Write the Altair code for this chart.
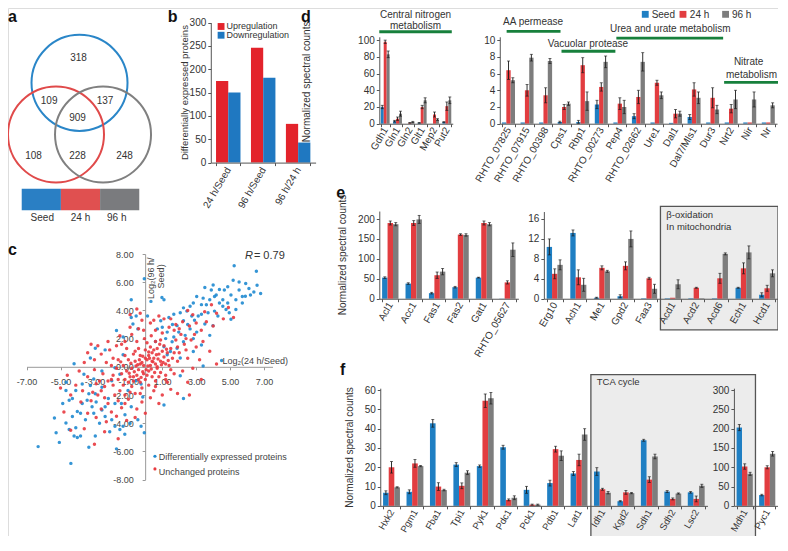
import altair as alt
import pandas as pd

# ---------------- canvas mapping (reference pixels -> chart pixels) ----------------
W, H = 770, 528
SX = W / 786.0
SY = H / 543.0
def cx(X):
    return (X - 1) * SX
def cy(Y):
    return (Y - 4) * SY

FONT = "Liberation Sans"
BLUE = "#1f7fc3"
RED = "#e23d40"
GRAY = "#7d7d7d"
GROUPS = ["Seed", "24 h", "96 h"]
GROUP_COLORS = [BLUE, RED, GRAY]

# ---------------- data ----------------
# a: Venn
venn_sets = ["Seed", "24 h", "96 h"]
venn_region_counts = [318, 109, 137, 909, 108, 228, 248]

# b
b_comparisons = ["24 h/Seed", "96 h/Seed", "96 h/24 h"]
b_up = [175, 246, 83]
b_down = [150, 182, 43]

# c: scatter (log2 ratios)
c_diff_x = [5.24, 6.55, 6.59, 5.53, 5.92, 5.18, 4.86, 4.37, 3.89, 3.51, 3.03, 2.83, 3.31, 3.80, 4.18, 4.57, 5.05, 5.34, 5.72, 6.20,
            4.76, 5.05, 4.57, 4.08, 3.70, 3.31, 2.45, 2.06, 1.68, 2.25, 1.87, 2.64, 3.03, 2.83, 2.25, 1.87, 1.48, 1.10, 1.29, 1.68,
            1.29, 1.00, 0.91, 1.39, 4.50, 3.41, 3.31, 2.25, 1.10, 2.06, 1.10, 0.71, 0.98, 3.51, 3.99, 3.80, 3.12, 4.37, 4.86, 5.53,
            5.72, 6.11, 4.66, 4.08, 3.41, 2.64, 2.25, 2.74, 1.97, 2.35, 1.58, 4.95, 5.34, 4.28, 2.06, 2.83, 6.80, 6.40, 5.90, 4.00,
            3.60, 2.90, 2.50, 1.60, 1.20, 0.60,
            -0.06, -0.83, 0.33, -0.83, -0.73, -1.70, -1.31, 0.13, -0.54, -0.44, -2.95, -2.37, -3.24, -4.20, -1.31,
            -3.62, -3.04, -2.56, -4.68, -4.68, -4.49, -4.10, -3.72, -4.01, -4.30, -4.68, -5.36, -5.26, -4.49, -4.10, -4.20, -4.01,
            -3.82, -5.07, -6.32, -4.39, -3.33, -2.95, -3.53, -3.04, -2.56, -2.37, -1.98, -1.79, -1.50, -1.31, -1.21, -1.70, -0.44,
            -0.25, -0.06, -0.83, -2.18, -1.79, -3.33, -3.72, -2.95, -2.37, -1.41, -1.02, -0.54, -1.98, -1.50, -2.56, -1.79, -3.43,
            -3.14, -3.82, -4.87, -4.30, -3.24, -0.25, -0.15, -2.10, -2.70, -1.20, -0.90, -2.90]
c_diff_y = [7.17, 6.78, 5.79, 6.02, 5.91, 6.14, 5.68, 5.49, 5.45, 5.63, 4.99, 4.53, 4.41, 4.76, 5.10, 4.76, 5.10, 4.76, 4.53, 5.10,
            4.07, 3.38, 4.30, 3.95, 3.84, 3.72, 3.95, 3.84, 3.72, 3.26, 2.92, 2.69, 2.46, 2.00, 1.77, 1.31, 1.08, 1.43, 0.85, 2.11,
            2.46, 2.80, 3.26, 3.49, 0.44, 0.05, 1.54, -2.25, -2.71, -0.64, 4.76, 2.69, 4.92, 3.03, 2.92, 2.23, 3.61, 4.53, 4.53, 5.45,
            4.99, 5.56, 5.45, 4.99, 4.87, 4.30, 4.18, 3.61, 2.46, 2.23, 1.77, 3.84, 4.07, 3.61, 0.62, 1.08, 5.20, 5.30, 5.00, 5.80,
            4.40, 3.30, 3.00, 3.00, 2.00, 1.80,
            6.25, 4.76, 4.64, 3.49, 3.03, 2.57, 2.11, 3.61, 3.61, 2.69, 1.31, 1.20, 0.62, 0.21, 0.85,
            -0.53, -0.87, -1.45, -1.10, -1.68, -2.37, -1.68, -2.60, -3.17, -3.52, -3.98, -3.63, -4.67, -4.44, -4.32, -4.90, -5.01,
            -4.90, -5.36, -5.66, -6.85, -5.70, -4.90, -3.75, -3.29, -3.06, -3.52, -3.75, -4.21, -4.44, -4.21, -4.78, -5.82, -3.75,
            -4.21, -4.67, -2.83, -2.25, -2.60, -1.91, -1.22, -1.91, -2.83, -2.60, -1.68, -0.99, -0.99, -0.53, -0.30, -0.07, -2.37,
            -2.83, -3.29, -2.60, -2.25, -1.33, -1.22, -2.14, -4.60, -4.00, -3.40, -4.00, -2.50]
c_unch_x = [-0.2, 0.1, 0.3, -0.4, 0.5, 0.2, -0.1, 0.6, -0.6, 0.8, 0.4, -0.3, 0.9, 1.1, 0.7, -0.8, -0.5, -0.9, -1.1, -0.7,
            -1.0, 0.0, 0.3, 0.7, 1.0, 1.3, 1.2, 0.9, 0.4, 0.0, -0.3, -0.7, -1.2, -1.4, -1.3, -1.2, -0.4, 0.1, 0.6, 1.1,
            1.5, 1.6, 1.5, 1.2, 0.6, 0.2, -0.2, -0.8, -1.3, -1.6, -1.7, -1.6, 0.2, -0.1, 0.45, -0.35, 0.75, -0.55, 0.05, 0.25,
            -0.15, 0.95, 0.55, -0.25, -0.65, 1.35, 0.85, -0.05, 0.35, -0.5,
            1.8, 2.1, 2.4, 2.0, 1.7, 2.6, 3.0, 3.3, 3.6, 4.0, 2.8, 3.5, 4.2, 4.6, 2.2, 1.4, 1.0, 0.6, 0.3, -0.2,
            0.8, 1.9, 2.5, 3.0, 3.4, 2.7, 2.2, 2.8, 3.2, 4.2, 3.8, 1.5, 2.5, 3.9, 4.9, 5.2, 1.2, 1.7, 2.5, 3.3,
            0.5, 1.0, 1.5, 0.8, 0.3, 1.9, 2.6,
            -0.5, -0.9, -0.4, -0.8, -1.2, -1.7, -2.1, -2.6, -3.0, -3.4, -3.6, -2.3, -1.9, -2.8, -2.2, -0.3, -1.5, -3.2,
            -2.0, -2.4, -2.9, -3.4, -3.9, -2.8, -2.2, -1.8, -1.5, -3.2, -2.6, -2.0, -1.4, -1.0, -0.6, -4.1, -4.4, -3.7,
            -3.4, -2.9, -2.3, -1.7, -1.1, -0.5, -0.2, -2.5, -3.0, -1.9, -2.6, -1.2, -0.9, -4.4, -3.6, -3.0, -4.8, -2.4,
            -1.6, -0.6, 0.0, -3.8, -4.6, -5.0,
            0.15, -0.45, 0.65, -0.85, 0.35, -0.15, 1.05, 0.5, -0.6, 0.2, -0.95, 0.8, -0.4, 1.25, 1.7, -1.45, -1.1, 0.0,
            0.4, -0.3, 0.7, -0.7, 0.1, 1.4, -1.0, 0.9, 1.9, 2.3, 2.0, 2.9, -1.9, -2.2, -1.6, -2.4, -0.3, 0.6, 1.3, -2.0,
            -1.4, -0.9, -0.1, 0.5, 1.1, 1.8, 2.4, -1.2, -2.7, -3.1]
c_unch_y = [0.3, 0.5, 0.1, -0.2, 0.6, -0.3, -0.5, 0.2, 0.4, 0.9, 1.0, 0.8, 0.4, 0.7, -0.1, -0.1, -0.6, -0.7, -0.3, 0.9,
            0.5, 1.2, 1.4, 1.3, 1.1, 1.0, 0.2, -0.4, -0.7, -0.9, -1.1, -1.0, -0.9, -0.5, 0.1, 0.8, 1.3, 1.7, 1.8, 1.5,
            1.3, 0.6, -0.2, -0.6, -1.0, -1.3, -1.5, -1.4, -1.3, -0.9, -0.1, 0.5, 0.8, 0.1, 0.35, 0.5, 0.55, 0.05, -0.2, 0.6,
            0.75, 0.15, -0.4, -0.75, -0.35, 0.45, 1.6, 2.0, 2.2, 1.8,
            1.9, 2.3, 1.2, 1.0, 2.6, 2.9, 3.1, 2.6, 3.2, 2.9, 3.7, 3.9, 3.8, 3.4, 3.2, 2.8, 2.4, 2.6, 3.1, 3.3,
            3.6, 0.4, 0.6, 1.4, 1.8, 1.9, -0.3, -0.1, 0.5, 0.2, 1.1, 3.4, 4.0, 4.4, 4.2, 3.5, -0.9, -0.5, -1.1, -0.9,
            -1.7, -2.0, -1.6, -2.6, -2.2, -1.9, -2.0,
            4.1, 3.7, 2.7, 2.3, 1.8, 1.5, 1.2, 0.9, 0.5, 1.0, 0.3, 0.3, 0.6, 1.5, 1.8, 3.8, 2.2, 1.6,
            -0.9, -1.4, -1.2, -0.7, -0.3, -2.0, -2.6, -2.0, -1.7, -2.4, -3.0, -3.2, -2.9, -2.3, -1.9, -1.3, -2.0, -1.7,
            -3.3, -3.6, -3.9, -3.5, -3.8, -3.0, -2.5, -0.5, -0.2, -1.3, -1.7, -2.0, -1.8, -4.5, -4.4, -5.5, -3.2, -4.6,
            -5.1, -3.6, -3.3, -2.5, -0.6, -1.5,
            0.05, 0.15, 0.85, 0.25, -0.15, -0.35, 0.3, 1.2, 1.1, 1.05, -0.45, -0.7, -0.9, 1.25, 1.0, 0.35, 1.3, 0.6,
            0.4, 0.2, 0.0, -0.7, -0.6, 0.1, -1.1, 1.9, 1.4, 1.6, 2.7, 2.3, -0.6, -1.0, -2.4, -2.2, -1.9, -1.4, -1.1, 0.1,
            1.6, 2.8, 2.6, 3.3, 3.4, 3.0, 2.0, -2.6, -1.0, -1.8]

# d
d1_genes = ["Gdh1", "Gln1", "Gln2", "Glt1", "Mep2", "Put2"]
d1_seed = [20, 3, 0, 1, 0, 2]
d1_seed_err = [2, 1, 0, 0.5, 0, 0.5]
d1_24h = [98, 6, 1, 20, 11, 21]
d1_24h_err = [2, 2, 0.4, 2, 3, 5]
d1_96h = [83, 12, 2, 28, 5, 28]
d1_96h_err = [4, 3, 0.8, 3, 1, 4]

d2_genes = ["RHTO_07825", "RHTO_07915", "RHTO_00398", "Cps1", "Rbp1", "RHTO_00273", "Pep4", "RHTO_02662",
            "Ure1", "Dal1", "Dal7/Mls1", "Dur3", "Nrt2", "Nir", "Nr"]
d2_seed = [0.15, 0.15, 0.15, 0.2, 0.2, 2.3, 0.15, 0.9, 0.15, 0.1, 0.8, 0.15, 0.15, 0.15, 0.15]
d2_seed_err = [0, 0, 0, 0.1, 0.2, 0.5, 0, 0.3, 0, 0, 0.3, 0, 0, 0, 0]
d2_24h = [6.4, 4.0, 3.4, 2.0, 7.0, 4.4, 2.4, 3.2, 4.9, 1.2, 4.1, 3.1, 1.8, 0.15, 0.15]
d2_24h_err = [1.1, 0.7, 0.9, 0.3, 0.9, 0.5, 0.7, 0.8, 0.3, 0.5, 0.8, 1.2, 0.5, 0, 0]
d2_96h = [5.2, 7.9, 7.5, 2.4, 2.7, 7.4, 2.0, 7.4, 3.4, 1.2, 3.1, 1.7, 2.9, 2.9, 2.2]
d2_96h_err = [0.3, 0.4, 0.3, 0.2, 1.1, 0.7, 0.8, 1.1, 0.4, 0.3, 0.7, 0.5, 1.1, 0.9, 0.3]

# e
e1_genes = ["Acl1", "Acc1", "Fas1", "Fas2", "Gat1", "RHTO_05627"]
e1_seed = [53, 38, 14, 29, 53, 0.5]
e1_seed_err = [2, 2, 2, 2, 1, 0]
e1_24h = [190, 190, 59, 161, 190, 41]
e1_24h_err = [5, 6, 8, 2, 5, 4]
e1_96h = [187, 199, 68, 160, 187, 123]
e1_96h_err = [4, 10, 8, 3, 4, 17]

e2_genes = ["Erg10", "Ach1", "Me1", "Gpd2", "Faa3", "Acd1", "Acd2", "Acd6", "Ech1", "Hcd1"]
e2_seed = [10.4, 13.2, 0.2, 0.5, 0.1, 0.1, 0.1, 0.1, 2.2, 0.8]
e2_seed_err = [1.6, 0.6, 0.1, 0.3, 0, 0, 0, 0, 0.1, 0.4]
e2_24h = [5.0, 4.3, 6.2, 6.6, 4.1, 0.2, 2.2, 4.1, 6.1, 2.1]
e2_24h_err = [1.0, 1.5, 0.4, 0.8, 0.2, 0, 0.1, 1.0, 1.1, 0.6]
e2_96h = [6.8, 2.8, 5.5, 12.0, 2.0, 2.9, 0.1, 9.0, 9.3, 5.1]
e2_96h_err = [1.0, 1.3, 0.2, 1.6, 0.9, 0.9, 0, 0.2, 1.3, 0.7]

# f
f1_genes = ["Hxk2", "Pgm1", "Fba1", "Tpi1", "Pyk1", "Pdc1", "Pck1", "Pdb1", "Lat1", "Idh1", "Kgd2", "Sdh1", "Sdh2", "Lsc2"]
f1_seed = [6.8, 7.3, 42.8, 21.4, 20.6, 30.4, 8.3, 11.8, 16.8, 17.8, 2.4, 34.0, 7.4, 7.0]
f1_seed_err = [1.0, 1.0, 2.0, 1.0, 0.6, 1.0, 1.8, 1.5, 1.0, 2.0, 0.3, 0.5, 0.5, 0.4]
f1_24h = [20.0, 22.0, 10.0, 10.4, 54.5, 3.1, 0.6, 29.4, 23.8, 8.6, 7.0, 13.6, 3.6, 3.6]
f1_24h_err = [3.0, 2.0, 2.0, 1.5, 3.5, 0.5, 0.3, 1.5, 3.0, 0.5, 1.0, 1.5, 0.5, 1.5]
f1_96h = [9.6, 20.6, 8.2, 17.2, 55.8, 4.2, 0.6, 26.0, 37.0, 6.8, 6.6, 25.6, 6.4, 10.4]
f1_96h_err = [0.3, 0.3, 0.4, 1.0, 3.0, 1.0, 0.3, 2.5, 3.0, 0.6, 0.3, 1.2, 0.3, 0.8]

f2_genes = ["Mdh1", "Pyc1"]
f2_seed = [203, 28]
f2_seed_err = [8, 2]
f2_24h = [102, 100]
f2_24h_err = [7, 4]
f2_96h = [83, 135]
f2_96h_err = [4, 6]


# ---------------- helpers ----------------
def long_df(genes, s, se, a, ae, b, be):
    rows = []
    for i, g in enumerate(genes):
        for grp, v, e in ((GROUPS[0], s[i], se[i]), (GROUPS[1], a[i], ae[i]), (GROUPS[2], b[i], be[i])):
            rows.append({"gene": g, "grp": grp, "val": v, "err": e,
                         "lo": max(v - e, 0), "hi": v + e})
    return pd.DataFrame(rows)


def axis_common(**kw):
    base = dict(grid=False, domainColor="#555555", tickColor="#555555", labelColor="#333333",
                labelFont=FONT, labelFontSize=10, tickSize=3, title=None, zindex=1)
    base.update(kw)
    return alt.Axis(**base)


def bar_panel(df, genes, X0, X1, Ybot, Ytop, dmax, ticks, pad_inner=0.3, label_size=10):
    xs = alt.Scale(range=[cx(X0), cx(X1)], paddingInner=pad_inner, paddingOuter=0.12)
    xa = axis_common(orient="bottom", offset=cy(Ybot) - H, labelAngle=300, tickBand="extent",
                     labelPadding=1, labelFontSize=label_size)
    ys = alt.Scale(domain=[0, dmax], range=[cy(Ybot), cy(Ytop)], nice=False, zero=True)
    ya = axis_common(orient="left", offset=-cx(X0), values=ticks, labelPadding=2)
    X = alt.X("gene:N", sort=genes, scale=xs, axis=xa)
    XO = alt.XOffset("grp:N", sort=GROUPS, scale=alt.Scale(domain=GROUPS))
    base = alt.Chart(df)
    bars = base.mark_bar().encode(
        x=X, xOffset=XO, y=alt.Y("val:Q", scale=ys, axis=ya),
        color=alt.Color("grp:N", scale=alt.Scale(domain=GROUPS, range=GROUP_COLORS), legend=None))
    eb = base.transform_filter("datum.err > 0")
    rule = eb.mark_rule(color="#1a1a1a", strokeWidth=0.9).encode(
        x=X, xOffset=XO, y=alt.Y("lo:Q", scale=ys, axis=ya), y2="hi:Q")
    cap_hi = eb.mark_tick(color="#1a1a1a", orient="horizontal", size=3, thickness=0.9).encode(
        x=X, xOffset=XO, y=alt.Y("hi:Q", scale=ys, axis=ya))
    cap_lo = eb.mark_tick(color="#1a1a1a", orient="horizontal", size=3, thickness=0.9).encode(
        x=X, xOffset=XO, y=alt.Y("lo:Q", scale=ys, axis=ya))
    return alt.layer(bars, rule, cap_hi, cap_lo)


OXS = alt.Scale(domain=[0, 788], range=[cx(0), cx(788)], nice=False, zero=False)
OYS = alt.Scale(domain=[0, 551], range=[cy(0), cy(551)], nice=False, zero=False)


def ox(f="X"):
    return alt.X(f"{f}:Q", scale=OXS, axis=None)


def oy(f="Y"):
    return alt.Y(f"{f}:Q", scale=OYS, axis=None)


def texts(items, **kw):
    df = pd.DataFrame(items, columns=["X", "Y", "t"])
    opts = dict(font=FONT, fontSize=10, color="#333333", baseline="middle")
    opts.update(kw)
    return alt.Chart(df).mark_text(**opts).encode(x=ox(), y=oy(), text="t:N")


def rects(items, **kw):
    df = pd.DataFrame(items, columns=["X", "X2", "Y", "Y2", "c"])
    return alt.Chart(df).mark_rect(**kw).encode(
        x=ox(), x2=alt.X2("X2:Q"), y=oy(), y2=alt.Y2("Y2:Q"),
        color=alt.Color("c:N", scale=None))


def symbols(items, shape, size, **kw):
    df = pd.DataFrame(items, columns=["X", "Y", "c"])
    return alt.Chart(df).mark_point(shape=shape, size=size, filled=True, opacity=1, **kw).encode(
        x=ox(), y=oy(), color=alt.Color("c:N", scale=None))


# ---------------- background boxes ----------------
bg = rects([(667, 787, 208, 335, "#ececec"), (596, 764, 381, 549, "#ececec")],
           stroke="#555555", strokeWidth=1.3)

# ---------------- panel b ----------------
b_rows = []
for i, cmp_ in enumerate(b_comparisons):
    b_rows.append({"cmp": cmp_, "dir": "Upregulation", "n": b_up[i]})
    b_rows.append({"cmp": cmp_, "dir": "Downregulation", "n": b_down[i]})
b_df = pd.DataFrame(b_rows)
b_chart = alt.Chart(b_df).mark_bar().encode(
    x=alt.X("cmp:N", sort=b_comparisons,
            scale=alt.Scale(range=[cx(208), cx(315)], paddingInner=0.3, paddingOuter=0.15),
            axis=axis_common(orient="bottom", offset=cy(163) - H, labelAngle=300, tickBand="extent",
                             labelPadding=2)),
    xOffset=alt.XOffset("dir:N", sort=["Upregulation", "Downregulation"],
                        scale=alt.Scale(domain=["Upregulation", "Downregulation"])),
    y=alt.Y("n:Q", scale=alt.Scale(domain=[0, 300], range=[cy(163), cy(19)], nice=False),
            axis=axis_common(orient="left", offset=-cx(208), values=[0, 50, 100, 150, 200, 250, 300],
                             labelPadding=2)),
    color=alt.Color("dir:N", scale=alt.Scale(domain=["Upregulation", "Downregulation"],
                                             range=["#e3232b", "#1f78c1"]), legend=None))

# ---------------- panel c ----------------
c_df = pd.concat([
    pd.DataFrame({"x": c_diff_x, "y": c_diff_y, "kind": "Differentially expressed proteins"}),
    pd.DataFrame({"x": c_unch_x, "y": c_unch_y, "kind": "Unchanged proteins"}),
], ignore_index=True)
lab_expr = "replace(format(datum.value, '.2f'), '\u2212', '-')"
c_chart = alt.Chart(c_df).mark_circle(size=12, opacity=0.9).encode(
    x=alt.X("x:Q", scale=alt.Scale(domain=[-7, 7.5], range=[cx(20), cx(271)], nice=False, zero=False),
            axis=alt.Axis(orient="bottom", offset=cy(373) - H, values=[-7, -5, -3, -1, 1, 3, 5, 7],
                          labelExpr=lab_expr, grid=False, title=None, labelFont=FONT, labelFontSize=9,
                          labelColor="#444444", domainColor="#999999", tickColor="#999999",
                          tickSize=3, labelPadding=8, labelFlush=False)),
    y=alt.Y("y:Q", scale=alt.Scale(domain=[-8, 8], range=[cy(489), cy(257)], nice=False, zero=False),
            axis=alt.Axis(orient="left", offset=-cx(141), values=[-8, -6, -4, -2, 0, 2, 4, 6, 8],
                          labelExpr=lab_expr, grid=False, title=None, labelFont=FONT, labelFontSize=9,
                          labelColor="#444444", domainColor="#999999", tickColor="#999999",
                          tickSize=3, labelPadding=9, labelFlush=False)),
    color=alt.Color("kind:N", scale=alt.Scale(domain=["Differentially expressed proteins", "Unchanged proteins"],
                                              range=["#1f8ad0", "#e8393f"]), legend=None),
)

# ---------------- panels d, e, f ----------------
d1 = bar_panel(long_df(d1_genes, d1_seed, d1_seed_err, d1_24h, d1_24h_err, d1_96h, d1_96h_err),
               d1_genes, 380, 455, 123, 33.6, 104, [0, 20, 40, 60, 80, 100], pad_inner=0.28)
d2 = bar_panel(long_df(d2_genes, d2_seed, d2_seed_err, d2_24h, d2_24h_err, d2_96h, d2_96h_err),
               d2_genes, 503, 786, 123, 33.6, 10.4, [0, 2, 4, 6, 8, 10], pad_inner=0.3)
e1 = bar_panel(long_df(e1_genes, e1_seed, e1_seed_err, e1_24h, e1_24h_err, e1_96h, e1_96h_err),
               e1_genes, 380, 522, 303, 212.8, 220, [0, 50, 100, 150, 200], pad_inner=0.3)
e2 = bar_panel(long_df(e2_genes, e2_seed, e2_seed_err, e2_24h, e2_24h_err, e2_96h, e2_96h_err),
               e2_genes, 548, 787, 303, 213.3, 17.5, [0, 4, 8, 12, 16], pad_inner=0.32)
f1 = bar_panel(long_df(f1_genes, f1_seed, f1_seed_err, f1_24h, f1_24h_err, f1_96h, f1_96h_err),
               f1_genes, 381, 715, 516, 395, 61, [0, 10, 20, 30, 40, 50, 60], pad_inner=0.28, label_size=9.5)
f2 = bar_panel(long_df(f2_genes, f2_seed, f2_seed_err, f2_24h, f2_24h_err, f2_96h, f2_96h_err),
               f2_genes, 742, 787, 516, 395, 305, [0, 50, 100, 150, 200, 250, 300], pad_inner=0.28,
               label_size=9.5)

# ---------------- foreground overlay ----------------
venn_df = pd.DataFrame({"X": [74, 50, 98], "Y": [81, 134, 134], "set": venn_sets})
venn = alt.Chart(venn_df).mark_point(shape="circle", filled=False, strokeWidth=2, opacity=1,
                                     size=(98 * SX) ** 2).encode(
    x=ox(), y=oy(),
    color=alt.Color("set:N", scale=alt.Scale(domain=venn_sets, range=["#2a86c8", "#e04a4a", "#808080"]),
                    legend=None))
venn_pos = [(73, 55), (43, 100), (100, 100), (72, 117), (27, 156), (72, 156), (120, 156)]
venn_txt = texts([(p[0], p[1], str(n)) for p, n in zip(venn_pos, venn_region_counts)],
                 align="center", fontSize=10)
colorbar = rects([(15, 55, 190, 212, "#2a7fc4"), (55, 95, 190, 212, "#e05050"), (95, 135, 190, 212, "#7a7b7e")])
colorbar_txt = texts([(36, 220, venn_sets[0]), (75, 220, venn_sets[1]), (112, 220, venn_sets[2])],
                     align="center", fontSize=10)

letters = texts([(1, 5, "a"), (164, 5, "b"), (1, 245, "c"), (300, 5, "d"), (336, 186, "e"), (340, 368, "f")],
                align="left", baseline="top", fontSize=16, fontWeight="bold", color="#111111")

# b legend + title
b_leg = symbols([(218.5, 23, "#e3232b"), (218.5, 32, "#1f78c1")], "square", (7 * SX) ** 2)
b_leg_txt = texts([(224, 23, "Upregulation"), (224, 32, "Downregulation")], align="left", fontSize=9)
b_title = texts([(182, 91, "Differentially expressed proteins")], align="center", angle=270, fontSize=9.5)

# c annotations
c_txt = texts([(220, 367, "Log\u2082(24 h/Seed)")], align="left", fontSize=9, color="#444444")
c_ytxt = texts([(147, 282, "Log\u2082(96 h/"), (157, 280, "Seed)")], align="center", angle=270,
               fontSize=9, color="#444444")
c_r = texts([(247, 259, "R")], align="center", fontSize=11, fontStyle="italic", color="#333333")
c_r2 = texts([(252, 259, "= 0.79")], align="left", fontSize=11, color="#333333")
c_leg = symbols([(151, 465, "#1f8ad0"), (151, 478, "#e8393f")], "circle", 10)
c_leg_txt = texts([(155, 466, "Differentially expressed proteins"), (155, 481, "Unchanged proteins")],
                  align="left", fontSize=9, color="#444444")

# d annotations
GREEN = "#17803c"
green = rects([(380, 454, 27, 30, GREEN), (510, 565, 26.5, 29.5, GREEN), (566, 621, 47, 50, GREEN),
               (622, 731, 33.5, 36.5, GREEN), (732, 787, 79, 82, GREEN)])
d_txt = texts([(417, 11, "Central nitrogen"), (417, 22.5, "metabolism"), (537, 18.5, "AA permease"),
               (593, 41, "Vacuolar protease"), (677, 26, "Urea and urate metabolism"),
               (757, 60, "Nitrate"), (760, 72.5, "metabolism")], align="center", fontSize=10)
d_leg = symbols([(651.5, 10.5, BLUE), (690, 10.5, RED), (733.5, 10.5, GRAY)], "square", (7 * SX) ** 2)
d_leg_txt = texts([(658, 11, GROUPS[0]), (697, 11, GROUPS[1]), (740, 11, GROUPS[2])], align="left", fontSize=10)

ytitles = texts([(306, 80, "Normalized spectral counts"), (343, 258, "Normalized spectral counts"),
                 (350, 456, "Normalized spectral counts")], align="center", angle=270, fontSize=10)
box_txt = texts([(673, 217, "\u03b2-oxidation"), (673, 229.5, "In mitochondria"), (602, 389, "TCA cycle")],
                align="left", fontSize=9.5)

fg = alt.layer(venn, venn_txt, colorbar, colorbar_txt, letters, b_leg, b_leg_txt, b_title,
               c_txt, c_ytxt, c_r, c_r2, c_leg, c_leg_txt, green, d_txt, d_leg, d_leg_txt,
               ytitles, box_txt)

chart = alt.layer(bg, b_chart, c_chart, d1, d2, e1, e2, f1, f2, fg).resolve_scale(
    x="independent", y="independent", color="independent", xOffset="independent"
).resolve_axis(x="independent", y="independent").properties(
    width=W, height=H, padding=0, autosize=alt.AutoSizeParams(type="none")
).configure_view(stroke=None).configure(font=FONT)

chart.save("out.html", embed_options={"renderer": "svg", "actions": False})
